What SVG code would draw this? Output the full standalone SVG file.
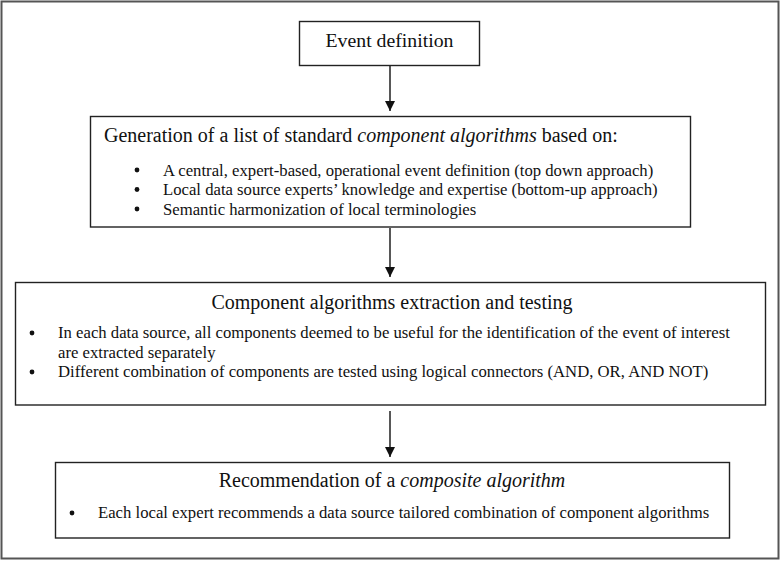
<svg xmlns="http://www.w3.org/2000/svg" width="781" height="561" viewBox="0 0 781 561">
<defs>
<style>
.box{fill:#fff;stroke:#222;stroke-width:1.4}
.t{font-family:"Liberation Serif","Times New Roman",serif;fill:#111}
.h{font-size:20px}
.b{font-size:16.7px}
.c{stroke:#111;stroke-width:1.4;fill:none}
.dot{fill:#111}
</style>
<marker id="ah" viewBox="0 0 10 10" refX="10" refY="5" markerWidth="10" markerHeight="10" markerUnits="userSpaceOnUse" orient="auto">
<path d="M0,0 L10,5 L0,10 Z" fill="#111"/>
</marker>
</defs>
<rect x="0" y="0" width="781" height="561" fill="#fff"/>
<rect x="1.5" y="1.5" width="777" height="557" fill="none" stroke="#555" stroke-width="2"/>
<g id="connectors">
<line class="c" x1="390" y1="66" x2="390" y2="111" marker-end="url(#ah)"/>
<line class="c" x1="390" y1="228" x2="390" y2="277" marker-end="url(#ah)"/>
<line class="c" x1="390" y1="411" x2="390" y2="457" marker-end="url(#ah)"/>
</g>
<g id="event-definition">
<rect class="box" x="299.5" y="21.5" width="180" height="44"/>
<text class="t" x="389.5" y="47" font-size="19.8" text-anchor="middle">Event definition</text>
</g>
<g id="generation">
<rect class="box" x="90.5" y="116.5" width="600" height="110.5"/>
<text class="t h" x="104" y="141.5">Generation of a list of standard <tspan font-style="italic">component algorithms</tspan> based on:</text>
<circle class="dot" cx="137" cy="170" r="2.4"/>
<circle class="dot" cx="137" cy="189.5" r="2.4"/>
<circle class="dot" cx="137" cy="209" r="2.4"/>
<text class="t b" x="163" y="175.5">A central, expert-based, operational event definition (top down approach)</text>
<text class="t b" x="163" y="195">Local data source experts’ knowledge and expertise (bottom-up approach)</text>
<text class="t b" x="163" y="214.5">Semantic harmonization of local terminologies</text>
</g>
<g id="extraction">
<rect class="box" x="15.5" y="282.5" width="750" height="122.5"/>
<text class="t h" x="392" y="308.5" text-anchor="middle">Component algorithms extraction and testing</text>
<circle class="dot" cx="32" cy="333" r="2.4"/>
<circle class="dot" cx="32" cy="372" r="2.4"/>
<text class="t b" x="58" y="338">In each data source, all components deemed to be useful for the identification of the event of interest</text>
<text class="t b" x="58" y="357.5">are extracted separately</text>
<text class="t b" x="58" y="377">Different combination of components are tested using logical connectors (AND, OR, AND NOT)</text>
</g>
<g id="recommendation">
<rect class="box" x="55.5" y="462.5" width="674" height="75.5"/>
<text class="t h" x="392" y="487" text-anchor="middle">Recommendation of a <tspan font-style="italic">composite algorithm</tspan></text>
<circle class="dot" cx="72" cy="513" r="2.4"/>
<text class="t b" x="98" y="518">Each local expert recommends a data source tailored combination of component algorithms</text>
</g>
</svg>
